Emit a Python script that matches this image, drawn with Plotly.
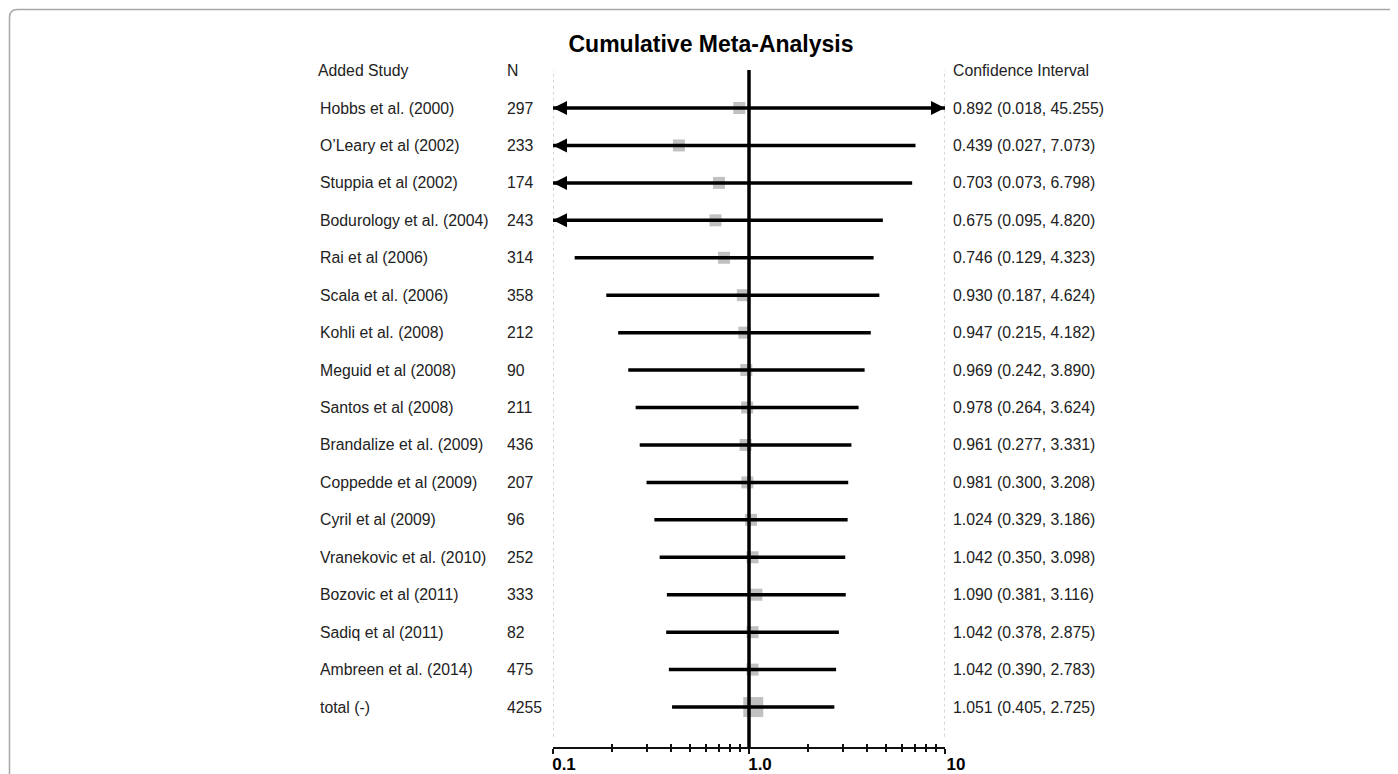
import plotly.graph_objects as go

W, H = 1398, 774
OFF = 8  # page body margin offset

studies = ["Hobbs et al. (2000)", "O\u2019Leary et al (2002)", "Stuppia et al (2002)",
           "Bodurology et al. (2004)", "Rai et al (2006)", "Scala et al. (2006)",
           "Kohli et al. (2008)", "Meguid et al (2008)", "Santos et al (2008)",
           "Brandalize et al. (2009)", "Coppedde et al (2009)", "Cyril et al (2009)",
           "Vranekovic et al. (2010)", "Bozovic et al (2011)", "Sadiq et al (2011)",
           "Ambreen et al. (2014)", "total (-)"]
n_values = [297, 233, 174, 243, 314, 358, 212, 90, 211, 436, 207, 96, 252, 333, 82, 475, 4255]
estimate = [0.892, 0.439, 0.703, 0.675, 0.746, 0.930, 0.947, 0.969, 0.978, 0.961,
            0.981, 1.024, 1.042, 1.090, 1.042, 1.042, 1.051]
ci_lower = [0.018, 0.027, 0.073, 0.095, 0.129, 0.187, 0.215, 0.242, 0.264, 0.277,
            0.300, 0.329, 0.350, 0.381, 0.378, 0.390, 0.405]
ci_upper = [45.255, 7.073, 6.798, 4.820, 4.323, 4.624, 4.182, 3.890, 3.624, 3.331,
            3.208, 3.186, 3.098, 3.116, 2.875, 2.783, 2.725]

x_min, x_max = 0.1, 10.0
major_ticks = [0.1, 1.0, 10.0]
major_labels = ["0.1", "1.0", "10"]
minor_ticks = [0.2, 0.3, 0.4, 0.5, 0.6, 0.7, 0.8, 0.9, 2, 3, 4, 5, 6, 7, 8, 9]

rows = list(range(len(studies)))
FONT = "Liberation Sans, Arial, sans-serif"
TXT = "#222222"
FS = 15.8


def px_x(p):
    return (p - OFF) / W


def px_y(p):
    return 1 - (p - OFF) / H


fig = go.Figure()

# point estimate squares (main subplot, below the CI lines)
sizes = [12] * (len(studies) - 1) + [20]
fig.add_trace(go.Scatter(
    x=estimate, y=rows, mode="markers",
    marker=dict(symbol="square", size=sizes, color="#a6a6a6", line=dict(width=0)),
    xaxis="x", yaxis="y", hoverinfo="skip", showlegend=False))

# CI lines clipped to axis range
lx, ly = [], []
for i in rows:
    lx += [max(ci_lower[i], x_min), min(ci_upper[i], x_max), None]
    ly += [i, i, None]
fig.add_trace(go.Scatter(
    x=lx, y=ly, mode="lines", line=dict(color="black", width=3.5),
    xaxis="x2", yaxis="y", hoverinfo="skip", showlegend=False, cliponaxis=False))

# arrows where the CI exceeds the axis range
ax_, ay_, sym = [], [], []
for i in rows:
    if ci_lower[i] < x_min:
        ax_.append(x_min); ay_.append(i); sym.append("arrow-left")
    if ci_upper[i] > x_max:
        ax_.append(x_max); ay_.append(i); sym.append("arrow-right")
fig.add_trace(go.Scatter(
    x=ax_, y=ay_, mode="markers",
    marker=dict(symbol=sym, size=14, color="black", line=dict(width=0)),
    xaxis="x2", yaxis="y", hoverinfo="skip", showlegend=False, cliponaxis=False))

x_dom = [px_x(553), px_x(945)]
y_dom = [px_y(747), px_y(70)]
y_range = [(747 - 108) / 37.44, (70 - 108) / 37.44]

common_x = dict(type="log", range=[-1, 1], domain=x_dom, anchor="y", automargin=False)
fig.update_layout(
    width=W, height=H,
    margin=dict(l=0, r=0, t=0, b=0),
    paper_bgcolor="white", plot_bgcolor="rgba(0,0,0,0)",
    template="none",
    font=dict(family=FONT, size=FS, color=TXT),
    title=dict(text="<b>Cumulative Meta-Analysis</b>", x=px_x(711), y=px_y(44),
               xanchor="center", yanchor="middle", xref="paper", yref="paper",
               font=dict(family=FONT, size=23, color="black")),
    xaxis=dict(**common_x,
               tickmode="array", tickvals=major_ticks, ticktext=major_labels,
               ticks="outside", ticklen=5, tickwidth=1.5, tickcolor="#111111",
               showline=True, linecolor="#111111", linewidth=1.5,
               showgrid=False, zeroline=False, ticklabelshift=11, ticklabelstandoff=-4,
               tickfont=dict(family=FONT, size=17, color="black", weight="bold"),
               minor=dict(tickmode="array", tickvals=minor_ticks, ticks="outside",
                          ticklen=3, tickwidth=1.5, tickcolor="#111111", showgrid=False)),
    xaxis2=dict(**common_x, overlaying="x", matches="x",
                tickmode="array", tickvals=major_ticks, ticks="inside", ticklen=8,
                tickwidth=1.5, tickcolor="#111111", showticklabels=False,
                showline=False, showgrid=False, zeroline=False,
                minor=dict(tickmode="array", tickvals=minor_ticks, ticks="inside",
                           ticklen=3, tickwidth=1.5, tickcolor="#111111", showgrid=False)),
    yaxis=dict(range=y_range, domain=y_dom, showgrid=False, zeroline=False,
               showticklabels=False, showline=False, ticks="", automargin=False),
    showlegend=False,
)

# dotted boundary lines at the axis limits
for xb in (x_min, x_max):
    fig.add_shape(type="line", xref="x", yref="y domain", x0=xb, x1=xb, y0=0.015, y1=1,
                  line=dict(color="#bdbdbd", width=1.2, dash="dot"), layer="below")

# vertical no-effect line at 1.0
fig.add_shape(type="line", xref="x", yref="y domain", x0=1, x1=1, y0=0, y1=1,
              line=dict(color="black", width=3.5), layer="above")

# outer rounded frame
fx, fy = px_x(9.5), px_y(9.5)
rx, ry = 8 / W, 8 / H
fig.add_shape(type="path", xref="paper", yref="paper",
              path=f"M {fx},-0.02 L {fx},{fy - ry} Q {fx},{fy} {fx + rx},{fy} L 1.02,{fy}",
              line=dict(color="#a8a8a8", width=1.5), layer="below")

# column headers
headers = [("Added Study", 316), ("N", 505), ("Confidence Interval", 951)]
for txt, px in headers:
    fig.add_annotation(text=txt, x=px_x(px), xref="paper", y=-1, yref="y",
                       xanchor="left", yanchor="middle", showarrow=False,
                       font=dict(family=FONT, size=FS, color=TXT))

for i in rows:
    fig.add_annotation(text=studies[i], x=px_x(318), xref="paper", y=i, yref="y",
                       xanchor="left", yanchor="middle", showarrow=False,
                       font=dict(family=FONT, size=FS, color=TXT))
    fig.add_annotation(text=str(n_values[i]), x=px_x(505), xref="paper", y=i, yref="y",
                       xanchor="left", yanchor="middle", showarrow=False,
                       font=dict(family=FONT, size=FS, color=TXT))
    ci_txt = f"{estimate[i]:.3f} ({ci_lower[i]:.3f}, {ci_upper[i]:.3f})"
    fig.add_annotation(text=ci_txt, x=px_x(951), xref="paper", y=i, yref="y",
                       xanchor="left", yanchor="middle", showarrow=False,
                       font=dict(family=FONT, size=FS, color=TXT))

fig.write_html("out.html")
